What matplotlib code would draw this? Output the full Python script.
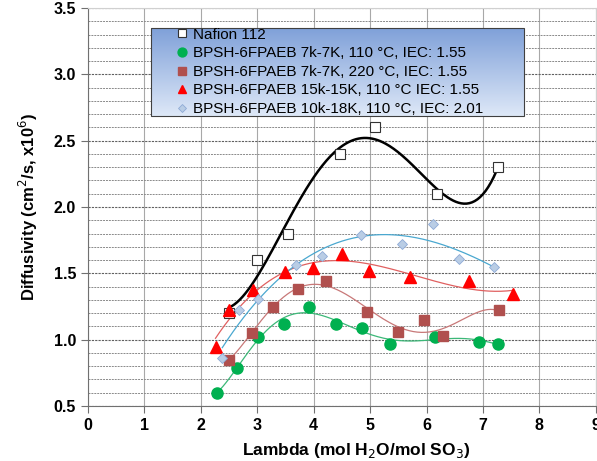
import numpy as np
import matplotlib.pyplot as plt
from matplotlib.patches import Rectangle
from matplotlib.ticker import MultipleLocator

plt.rcParams['font.family'] = ['Liberation Sans', 'DejaVu Sans']

# Nafion 112
naf_x = [2.50, 3.00, 3.54, 4.46, 5.08, 6.18, 7.26]
naf_y = [1.20, 1.60, 1.80, 2.40, 2.60, 2.10, 2.30]

# BPSH-6FPAEB 7k-7K, 110 C
g_x = [2.29, 2.64, 3.02, 3.47, 3.92, 4.40, 4.86, 5.35, 6.15, 6.93, 7.26]
g_y = [0.60, 0.79, 1.02, 1.12, 1.245, 1.12, 1.09, 0.97, 1.02, 0.985, 0.97]

# BPSH-6FPAEB 7k-7K, 220 C
b_x = [2.50, 2.91, 3.28, 3.73, 4.21, 4.95, 5.50, 5.96, 6.30, 7.28]
b_y = [0.85, 1.05, 1.25, 1.38, 1.44, 1.21, 1.06, 1.15, 1.03, 1.22]

# BPSH-6FPAEB 15k-15K, 110 C
r_x = [2.26, 2.50, 2.93, 3.49, 3.98, 4.51, 4.98, 5.71, 6.76, 7.53]
r_y = [0.943, 1.22, 1.375, 1.51, 1.543, 1.646, 1.516, 1.475, 1.445, 1.343]

# BPSH-6FPAEB 10k-18K, 110 C
d_x = [2.38, 2.67, 3.01, 3.68, 4.14, 4.83, 5.57, 6.12, 6.58, 7.19]
d_y = [0.86, 1.22, 1.31, 1.56, 1.63, 1.79, 1.72, 1.87, 1.606, 1.548]

labels = ['Nafion 112',
          'BPSH-6FPAEB 7k-7K, 110 \u00b0C, IEC: 1.55',
          'BPSH-6FPAEB 7k-7K, 220 \u00b0C, IEC: 1.55',
          'BPSH-6FPAEB 15k-15K, 110 \u00b0C IEC: 1.55',
          'BPSH-6FPAEB 10k-18K, 110 \u00b0C, IEC: 2.01']

fig = plt.figure(figsize=(5.97, 4.61), dpi=100)
ax = fig.add_axes([0.1474, 0.1193, 0.8506, 0.8633])


def trend(x, y, deg, color, lw):
    p = np.polyfit(x, y, deg)
    xs = np.linspace(min(x), max(x), 200)
    ax.plot(xs, np.polyval(p, xs), color=color, lw=lw, zorder=3)


trend(naf_x, naf_y, 4, 'black', 1.8)
trend(g_x, g_y, 6, '#3cb878', 0.9)
trend(b_x, b_y, 5, '#c87878', 0.9)
trend(r_x, r_y, 3, '#e06060', 0.9)
trend(d_x, d_y, 3, '#4aa8d0', 0.9)

ax.plot(naf_x, naf_y, 's', ms=7, mfc='white', mec='#333333', mew=0.8,
        ls='none', label=labels[0], zorder=4)
ax.plot(g_x, g_y, 'o', ms=8, color='#00b050', ls='none',
        label=labels[1], zorder=4)
ax.plot(b_x, b_y, 's', ms=6.5, color='#b0504e', ls='none',
        label=labels[2], zorder=4)
ax.plot(r_x, r_y, '^', ms=8, color='#ff0000', ls='none',
        label=labels[3], zorder=4)
ax.plot(d_x, d_y, 'D', ms=5, mfc='#b9cde5', mec='#8eaad6', mew=0.6,
        ls='none', label=labels[4], zorder=4)

ax.set_xlim(0, 9)
ax.set_ylim(0.5, 3.5)
ax.xaxis.set_major_locator(MultipleLocator(1))
ax.yaxis.set_major_locator(MultipleLocator(0.5))
ax.yaxis.set_minor_locator(MultipleLocator(0.1))
ax.yaxis.set_major_formatter(lambda v, pos: f'{v:.1f}')

ax.grid(axis='x', which='major', color='#a8a8a8', lw=0.8)
ax.grid(axis='y', which='major', color='#606060', lw=0.8, ls=(0, (2, 1)))
ax.grid(axis='y', which='minor', color='#8a8a8a', lw=0.7, ls=(0, (2, 1)))
ax.set_axisbelow(True)

for s in ['left', 'bottom']:
    ax.spines[s].set_color('#707070')
for s in ['top', 'right']:
    ax.spines[s].set_color('#d0d0d0')
ax.tick_params(which='major', length=5, color='#707070', labelsize=11.5)
ax.tick_params(which='minor', length=0)
for t in ax.get_xticklabels() + ax.get_yticklabels():
    t.set_fontweight('bold')

ax.set_xlabel('Lambda (mol H$_2$O/mol SO$_3$)', fontsize=12.5, fontweight='bold',
              labelpad=6, x=0.528)
ax.set_ylabel('Diffusivity (cm$^2$/s, x10$^6$)', fontsize=12, fontweight='bold',
              labelpad=10)

# legend box with vertical blue gradient, darker at the top
box = (0.124, 0.729, 0.734, 0.221)
grad = np.linspace(0, 1, 100).reshape(-1, 1)
top_c = np.array([0.50, 0.63, 0.85])
bot_c = np.array([0.87, 0.91, 0.97])
img = top_c * (1 - grad[..., None]) + bot_c * grad[..., None]
ax.imshow(img, extent=[box[0], box[0] + box[2], box[1], box[1] + box[3]],
          transform=ax.transAxes, aspect='auto', zorder=5, origin='upper')
ax.add_patch(Rectangle(box[:2], box[2], box[3], transform=ax.transAxes,
                       fill=False, ec='#404040', lw=0.8, zorder=6))
ax.set_xlim(0, 9)
ax.set_ylim(0.5, 3.5)

leg = ax.legend(loc='center left',
                bbox_to_anchor=(box[0] + 0.045, box[1] + box[3] / 2),
                bbox_transform=ax.transAxes, frameon=False, fontsize=11,
                handletextpad=0.15, labelspacing=0.3, borderpad=0,
                handlelength=1.1, borderaxespad=0, markerscale=0.8)
leg.set_zorder(7)
for h in leg.legend_handles:
    h.set_linestyle('none')

fig.savefig('out.png', dpi=100)
